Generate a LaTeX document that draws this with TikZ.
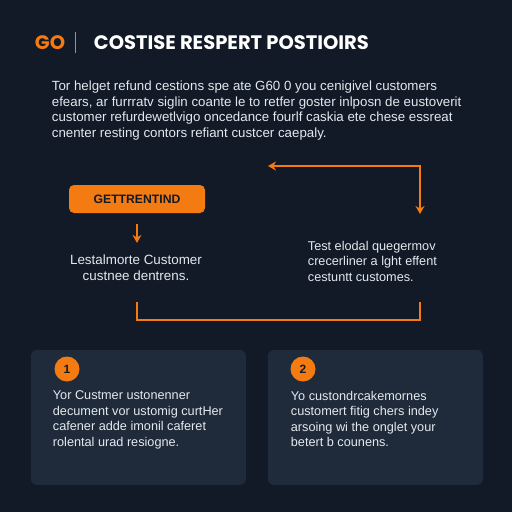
\documentclass[tikz,border=0pt]{standalone}
\usepackage{fontspec}
\usetikzlibrary{arrows.meta}
\setmainfont{Liberation Sans}
\newfontfamily\headfont{Poppins}
\definecolor{Orange}{HTML}{F47A12}
\definecolor{Navy}{HTML}{111A26}
\definecolor{Card}{HTML}{1F2B3A}
\definecolor{Ink}{HTML}{E4E8EE}

\begin{document}
\begin{tikzpicture}[x=1pt,y=-1pt,>={Stealth[length=8pt,width=9pt]},line width=1.8pt,
t/.style={text=Ink,font=\fontsize{12.7}{15.5}\selectfont,align=left,inner sep=0pt},
card/.style={fill=Card,rounded corners=6pt,minimum width=215pt,minimum height=135pt,anchor=north west},
num/.style={circle,fill=Orange,text=Navy,font=\bfseries\fontsize{12}{12}\selectfont,minimum size=25pt,inner sep=0pt}]
\fill[Navy] (0,0) rectangle (512,512);
% header
\path[nodes={anchor=west,inner sep=0pt,font=\headfont\bfseries\fontsize{19.5}{22}\selectfont}]
(34,43) node[text=Orange] (go) {GO}
(93,43) node[text=white] (title) {COSTISE RESPERT POSTIOIRS};
\draw[Orange,line width=0.8pt] (75,32) -- (75,53);
\node[t,anchor=north west,font=\fontsize{13.3}{15.5}\selectfont] (intro) at (51,80) {Tor helget refund cestions spe ate G60 0 you cenigivel customers\\
efears, ar furrratv siglin coante le to retfer goster inlposn de eustoverit\\
customer refurdewetlvigo oncedance fourlf caskia ete chese essreat\\
cnenter resting contors refiant custcer caepaly.};
% loop
\node[fill=Orange,rounded corners=5pt,minimum width=136pt,minimum height=28pt,
  font=\bfseries\fontsize{12.2}{14}\selectfont,text=Navy] (trend) at (137,199) {GETTRENTIND};
\node[t,align=center,font=\fontsize{13.4}{16}\selectfont] (lefttxt) at (136,268) {Lestalmorte Customer\\custnee dentrens.};
\node[t,anchor=north west] (righttxt) at (307,240) {Test elodal quegermov\\crecerliner a lght effent\\cestuntt customes.};
\coordinate (loopL) at (268,166);
\coordinate (loopC) at (420,166);
\coordinate (loopE) at (420,214);
\coordinate (brL) at (137,302);
\coordinate (brR) at (420,302);
\draw[<->,Orange] (loopL) -- (loopC) -- (loopE);
\draw[->,Orange] ([yshift=-10pt]trend.south) -- ++(0,19);
\draw[Orange] (brL) -- ++(0,18) -| (brR);
% cards
\node[card] (cardA) at (30,349) {};
\node[card] (cardB) at (267,349) {};
\node[num] (numA) at (67,369) {1};
\node[num] (numB) at (303,369) {2};
\node[t,anchor=north west] (txtA) at (52,390) {Yor Custmer ustonenner\\decument vor ustomig curtHer\\cafener adde imonil caferet\\rolental urad resiogne.};
\node[t,anchor=north west] (txtB) at (290,390) {Yo custondrcakemornes\\customert fitig chers indey\\arsoing wi the onglet your\\betert b counens.};
\end{tikzpicture}
\end{document}
